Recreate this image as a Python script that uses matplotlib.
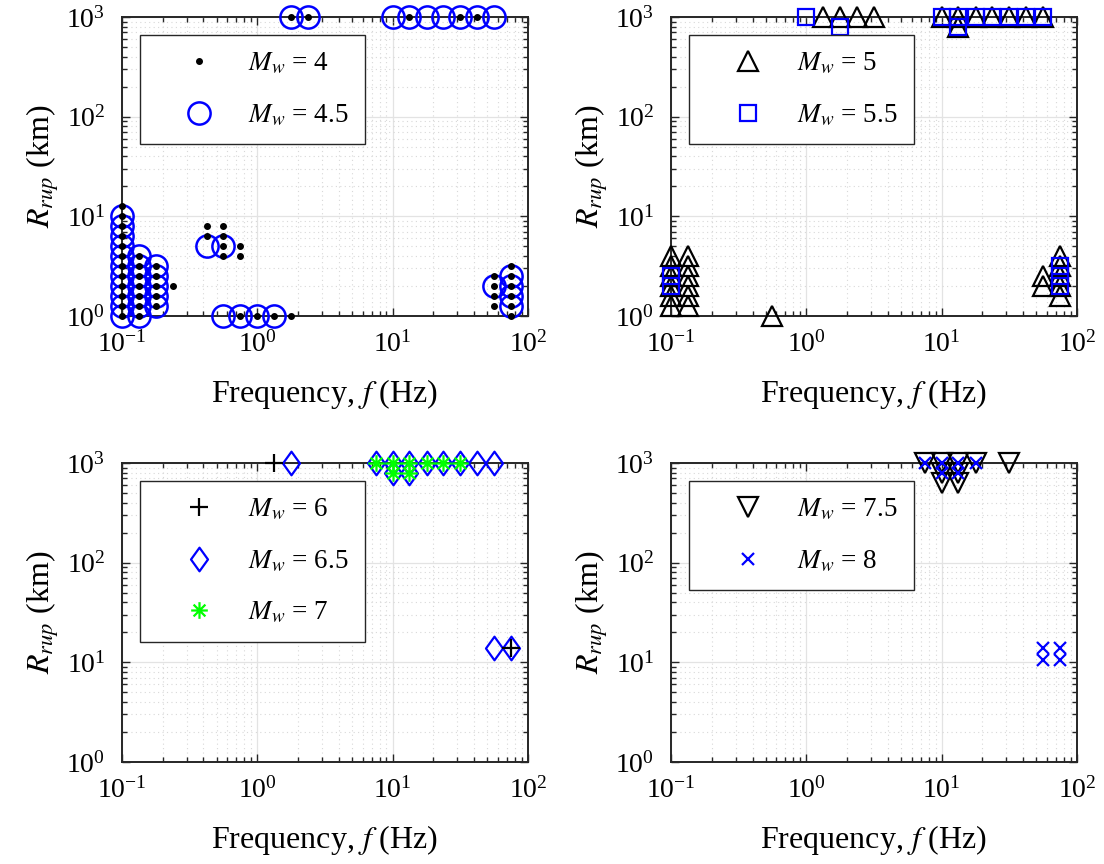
import numpy as np
import matplotlib
matplotlib.use('Agg')
import matplotlib.pyplot as plt
from matplotlib.path import Path

plt.rcParams['font.family'] = ['Liberation Serif', 'DejaVu Serif']
plt.rcParams['mathtext.fontset'] = 'stix'

# ---------------- data ----------------
# Panel 1
mw4_x = [0.1]*12 + [0.133]*7 + [0.178]*5 + [0.237] + [0.422]*2 + [0.562]*4 + [0.75]*2 \
        + [0.75, 1.0, 1.33, 1.78] + [1.78, 2.37, 13.3, 31.6, 42.2] + [56.2]*4 + [75]*6
mw4_y = [1, 1.26, 1.58, 2.0, 2.51, 3.16, 3.98, 5.01, 6.31, 7.94, 10, 12.6] \
        + [1, 1.26, 1.58, 2.0, 2.51, 3.16, 3.98] \
        + [1.26, 1.58, 2.0, 2.51, 3.16] + [2.0] + [6.31, 7.94] \
        + [3.98, 5.01, 6.31, 7.94] + [3.98, 5.01] \
        + [1, 1, 1, 1] + [1000]*5 + [1.26, 1.58, 2.0, 2.51] \
        + [1, 1.26, 1.58, 2.0, 2.51, 3.16]
mw45_x = [0.1]*11 + [0.133]*7 + [0.178]*5 + [0.422, 0.562] + [0.562, 0.75, 1.0, 1.33] \
         + [1.78, 2.37, 10, 13.3, 17.8, 23.7, 31.6, 42.2, 56.2] + [56.2] + [75]*4
mw45_y = [1, 1.26, 1.58, 2.0, 2.51, 3.16, 3.98, 5.01, 6.31, 7.94, 10] \
         + [1, 1.26, 1.58, 2.0, 2.51, 3.16, 3.98] \
         + [1.26, 1.58, 2.0, 2.51, 3.16] + [5.01, 5.01] + [1, 1, 1, 1] \
         + [1000]*9 + [2.0] + [1.26, 1.58, 2.0, 2.51]

# Panel 2
mw5_x = [0.1]*6 + [0.133]*6 + [0.562] \
        + [1.33, 1.78, 2.37, 3.16, 10, 13.3, 17.8, 23.7, 31.6, 42.2, 56.2] + [13.3] \
        + [56.2]*2 + [75]*5
mw5_y = [1.26, 1.58, 2.0, 2.51, 3.16, 3.98]*2 + [1] + [1000]*11 + [794] \
        + [2.0, 2.51] + [1.58, 2.0, 2.51, 3.16, 3.98]
mw55_x = [0.1]*2 + [1.0, 10, 13.3, 17.8, 23.7, 31.6, 42.2, 56.2] + [1.78, 13.3] + [75]*3
mw55_y = [2.0, 2.51] + [1000]*8 + [794, 794] + [2.0, 2.51, 3.16]

# Panel 3
mw6_x = [1.33, 75]
mw6_y = [1000, 14]
mw65_x = [1.78, 7.5, 10, 13.3, 17.8, 23.7, 31.6, 42.2, 56.2, 10, 13.3, 56.2, 75]
mw65_y = [1000]*9 + [794, 794] + [14, 14]
mw7_x = [7.5, 10, 13.3, 17.8, 23.7, 31.6, 10, 13.3]
mw7_y = [1000]*6 + [794, 794]

# Panel 4
mw75_x = [7.5, 10, 13.3, 17.8, 31.6, 10, 13.3, 10, 13.3]
mw75_y = [1000]*5 + [794, 794, 631, 631]
mw8_x = [7.5, 10, 13.3, 17.8, 10, 13.3, 56.2, 75, 56.2, 75]
mw8_y = [1000]*4 + [794, 794, 14, 14, 10.5, 10.5]

# ---------------- markers ----------------
a = 1 / np.sqrt(2)
ast = Path([(-1, 0), (1, 0), (0, -1), (0, 1), (-a, -a), (a, a), (-a, a), (a, -a)],
           [Path.MOVETO, Path.LINETO] * 4)
dia = Path([(0, 1), (0.72, 0), (0, -1), (-0.72, 0), (0, 1)],
           [Path.MOVETO, Path.LINETO, Path.LINETO, Path.LINETO, Path.CLOSEPOLY])

BLUE = (0, 0, 1)
BLACK = (0, 0, 0)
GREEN = (0, 1, 0)

fig = plt.figure(figsize=(11.04, 8.64), dpi=100)
W, H = 0.3678, 0.346
pos = [[0.1105, 0.6343, W, H], [0.6078, 0.6343, W, H],
       [0.1105, 0.1181, W, H], [0.6078, 0.1181, W, H]]
axes = [fig.add_axes(p) for p in pos]

TFS = 20
LFS = 23

def style(ax):
    ax.set_xscale('log')
    ax.set_yscale('log')
    ax.set_xlim(0.1, 100)
    ax.set_ylim(1, 1000)
    ax.grid(True, which='major', color='#e3e3e3', lw=0.9, ls='-')
    ax.grid(True, which='minor', color='#d8d8d8', lw=0.8, ls=(0, (1, 3)))
    ax.set_axisbelow(True)
    ax.tick_params(which='both', direction='in', top=True, right=True,
                   labelsize=TFS, width=1.0, color='#262626')
    ax.tick_params(which='major', length=6)
    ax.tick_params(which='minor', length=3.5)
    ax.tick_params(axis='x', which='major', pad=11)
    ax.tick_params(axis='y', which='major', pad=12)
    for s in ax.spines.values():
        s.set_linewidth(1.4)
        s.set_color('#262626')
    ax.set_xlabel('Frequency, $f$ (Hz)', fontsize=LFS, labelpad=14)
    ax.set_ylabel('$R_{rup}$ (km)', fontsize=LFS, labelpad=4)

def pl(ax, x, y, **kw):
    return ax.plot(x, y, ls='none', clip_on=False, **kw)[0]

for ax in axes:
    style(ax)

# Panel 1
ax = axes[0]
h45 = pl(ax, mw45_x, mw45_y, marker='o', ms=16, mfc='none', mec=BLUE, mew=1.8, zorder=3)
h4 = pl(ax, mw4_x, mw4_y, marker='.', ms=8, color=BLACK, zorder=4)
legs = [(ax, [h4, h45], ['$M_w$ = 4', '$M_w$ = 4.5'])]

# Panel 2
ax = axes[1]
h5 = pl(ax, mw5_x, mw5_y, marker='^', ms=15, mfc='none', mec=BLACK, mew=1.6, zorder=3)
h55 = pl(ax, mw55_x, mw55_y, marker='s', ms=11, mfc='none', mec=BLUE, mew=1.6, zorder=4)
legs.append((ax, [h5, h55], ['$M_w$ = 5', '$M_w$ = 5.5']))

# Panel 3
ax = axes[2]
h65 = pl(ax, mw65_x, mw65_y, marker=dia, ms=17, mfc='none', mec=BLUE, mew=1.6, zorder=3)
h6 = pl(ax, mw6_x, mw6_y, marker='+', ms=13, color=BLACK, mew=1.6, zorder=4)
h7 = pl(ax, mw7_x, mw7_y, marker=ast, ms=12, color=GREEN, mew=1.6, zorder=5)
legs.append((ax, [h6, h65, h7], ['$M_w$ = 6', '$M_w$ = 6.5', '$M_w$ = 7']))

# Panel 4
ax = axes[3]
h75 = pl(ax, mw75_x, mw75_y, marker='v', ms=15, mfc='none', mec=BLACK, mew=1.6, zorder=3)
h8 = pl(ax, mw8_x, mw8_y, marker='x', ms=9, color=BLUE, mew=1.6, zorder=4)
legs.append((ax, [h75, h8], ['$M_w$ = 7.5', '$M_w$ = 8']))

for ax, hh, ll in legs:
    leg = ax.legend(hh, ll, loc='upper left', bbox_to_anchor=(0.044, 0.94),
                    borderaxespad=0, fontsize=19.5, numpoints=1, handlelength=3.2,
                    handletextpad=0.2, borderpad=0.6, labelspacing=0.95,
                    fancybox=False, framealpha=1, edgecolor='#262626')
    leg.get_frame().set_linewidth(1.0)
    leg.set_zorder(10)

fig.savefig('out.png', dpi=100)
